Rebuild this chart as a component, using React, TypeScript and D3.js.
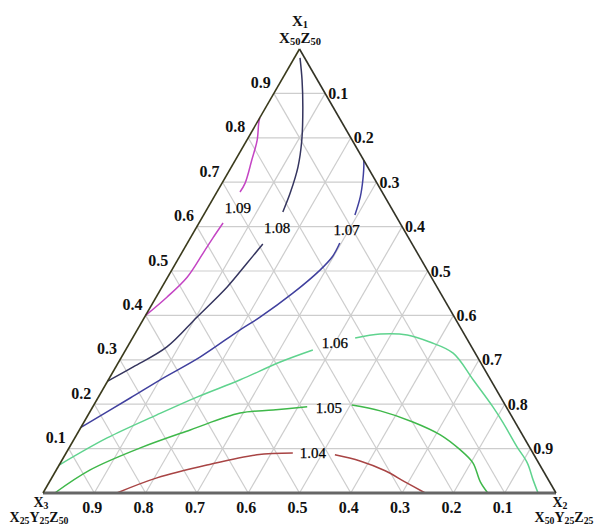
import React from "react";
import * as d3 from "d3";

// Ternary points are [X1, X2] fractions (X3 = 1 - X1 - X2)
const levels = ["1.04", "1.05", "1.06", "1.07", "1.08", "1.09"];
const levelColors = ["#a84444", "#3fb84a", "#5fd38e", "#40409e", "#35355f", "#c445c4"];

const c104 = [
  [[0, 0.144], [0.034, 0.205], [0.063, 0.288], [0.086, 0.374], [0.09, 0.442]],
  [[0.086, 0.526], [0.072, 0.582], [0.05, 0.642], [0.025, 0.693], [0, 0.745]],
];
const c105 = [
  [[0, 0.023], [0.052, 0.066], [0.101, 0.138], [0.142, 0.216], [0.18, 0.294], [0.187, 0.355], [0.194, 0.418]],
  [[0.198, 0.503], [0.185, 0.565], [0.16, 0.641], [0.131, 0.709], [0.097, 0.765], [0.068, 0.804], [0.025, 0.84], [0, 0.867]],
];
const c106 = [
  [[0.063, 0], [0.124, 0.063], [0.176, 0.134], [0.216, 0.192], [0.255, 0.257], [0.295, 0.315], [0.322, 0.365]],
  [[0.349, 0.434], [0.358, 0.478], [0.356, 0.532], [0.34, 0.584], [0.315, 0.642], [0.255, 0.711], [0.194, 0.78], [0.158, 0.818], [0.104, 0.872], [0.068, 0.91], [0.029, 0.941], [0, 0.965]],
];
const c107 = [
  [[0.148, 0], [0.214, 0.063], [0.255, 0.101], [0.306, 0.153], [0.367, 0.2], [0.396, 0.225], [0.45, 0.262], [0.502, 0.289], [0.532, 0.298], [0.563, 0.297]],
  [[0.626, 0.295], [0.667, 0.285], [0.705, 0.271], [0.743, 0.254], [0.75, 0.25]],
];
const c108 = [
  [[0.252, 0], [0.284, 0.034], [0.329, 0.077], [0.396, 0.102], [0.464, 0.127], [0.518, 0.139], [0.561, 0.148]],
  [[0.633, 0.151], [0.676, 0.144], [0.734, 0.13], [0.795, 0.107], [0.869, 0.072], [0.93, 0.04], [0.98, 0.011]],
];
const c109 = [
  [[0.4, 0], [0.441, 0.021], [0.486, 0.038], [0.541, 0.042], [0.574, 0.044], [0.608, 0.047]],
  [[0.678, 0.045], [0.698, 0.045], [0.75, 0.032], [0.795, 0.02], [0.833, 0.004], [0.845, 0]],
];
const contourSets = [c104, c105, c106, c107, c108, c109];
const labelSpots = [[0.09, 0.481], [0.191, 0.462], [0.338, 0.4], [0.592, 0.296], [0.597, 0.158], [0.642, 0.059]];

const tickValues = [0.1, 0.2, 0.3, 0.4, 0.5, 0.6, 0.7, 0.8, 0.9];
const tickLabels = ["0.1", "0.2", "0.3", "0.4", "0.5", "0.6", "0.7", "0.8", "0.9"];

// vertex labels: [base, subscript] pairs
const topLabel1 = [["X", "1"]];
const topLabel2 = [["X", "50"], ["Z", "50"]];
const leftLabel1 = [["X", "3"]];
const leftLabel2 = [["X", "25"], ["Y", "25"], ["Z", "50"]];
const rightLabel1 = [["X", "2"]];
const rightLabel2 = [["X", "50"], ["Y", "25"], ["Z", "25"]];

const W = 598;
const H = 528;
const xS = d3.scaleLinear().domain([0, 1]).range([43, 556]);
const yS = d3.scaleLinear().domain([0, 1]).range([493, 49]);
const px = (x1: number, x2: number) => xS(x2 + x1 / 2);
const py = (x1: number) => yS(x1);

const line = d3
  .line<number[]>()
  .x((d) => px(d[0], d[1]))
  .y((d) => py(d[0]))
  .curve(d3.curveCatmullRom.alpha(0.5));

const serif = "'Liberation Serif', 'Times New Roman', serif";

function subSpans(parts: string[][], size: number) {
  const shift = size * 0.15;
  const out: JSX.Element[] = [];
  parts.forEach((p, i) => {
    out.push(
      <tspan key={"b" + i} fontSize={size} dy={i === 0 ? 0 : -shift}>{p[0]}</tspan>
    );
    out.push(
      <tspan key={"s" + i} fontSize={size * 0.7} dy={shift}>{p[1]}</tspan>
    );
  });
  return out;
}

export default function App() {
  const grid: JSX.Element[] = [];
  tickValues.forEach((k, i) => {
    grid.push(<line key={"a" + i} x1={px(k, 0)} y1={py(k)} x2={px(k, 1 - k)} y2={py(k)} />);
    grid.push(<line key={"b" + i} x1={px(0, k)} y1={py(0)} x2={px(1 - k, k)} y2={py(1 - k)} />);
    grid.push(<line key={"c" + i} x1={px(0, 1 - k)} y1={py(0)} x2={px(1 - k, 0)} y2={py(1 - k)} />);
  });

  const A = [px(1, 0), py(1)];
  const B = [px(0, 0), py(0)];
  const C = [px(0, 1), py(0)];
  const fs = 15;
  const fb = 14;

  return (
    <svg width={W} height={H} style={{ position: "absolute", left: 0, top: 0, background: "#fff" }}>
      <g stroke="#cdcdcd" strokeWidth={1.2}>{grid}</g>
      {contourSets.map((segs, li) =>
        segs.map((seg, si) => (
          <path key={li + "-" + si} d={line(seg) || ""} fill="none" stroke={levelColors[li]} strokeWidth={1.5} />
        ))
      )}
      {labelSpots.map((p, i) => (
        <text key={"l" + i} x={px(p[0], p[1])} y={py(p[0])} textAnchor="middle" dominantBaseline="central"
          fontFamily={serif} fontSize={15} fill="#000" stroke="#000" strokeWidth={0.25}>{levels[i]}</text>
      ))}
      <line x1={B[0]} y1={B[1]} x2={C[0]} y2={C[1]} stroke="#666" strokeWidth={3} />
      <line x1={B[0]} y1={B[1]} x2={A[0]} y2={A[1]} stroke="#3a3a1c" strokeWidth={1.6} />
      <line x1={A[0]} y1={A[1]} x2={C[0]} y2={C[1]} stroke="#333326" strokeWidth={1.6} />
      <g fontFamily={serif} fontSize={16} fontWeight="bold" fill="#111">
        {tickValues.map((k, i) => (
          <text key={"tl" + i} x={px(k, 0) - 3} y={py(k) - 11} textAnchor="end" dominantBaseline="central">{tickLabels[i]}</text>
        ))}
        {tickValues.map((k, i) => (
          <text key={"tr" + i} x={px(1 - k, k) + 3} y={py(1 - k)} textAnchor="start" dominantBaseline="central">{tickLabels[i]}</text>
        ))}
        {tickValues.map((k, i) => (
          <text key={"tb" + i} x={px(0, 1 - k) - 2} y={507} textAnchor="middle" dominantBaseline="central">{tickLabels[i]}</text>
        ))}
      </g>
      <g fontFamily={serif} fontWeight="bold" fill="#111">
        <text x={300} y={26} textAnchor="middle">{subSpans(topLabel1, fs)}</text>
        <text x={300} y={43} textAnchor="middle">{subSpans(topLabel2, fs)}</text>
        <text x={41} y={507} textAnchor="middle">{subSpans(leftLabel1, fb)}</text>
        <text x={39} y={522} textAnchor="middle">{subSpans(leftLabel2, fb)}</text>
        <text x={560} y={507} textAnchor="middle">{subSpans(rightLabel1, fb)}</text>
        <text x={564} y={522} textAnchor="middle">{subSpans(rightLabel2, fb)}</text>
      </g>
    </svg>
  );
}
